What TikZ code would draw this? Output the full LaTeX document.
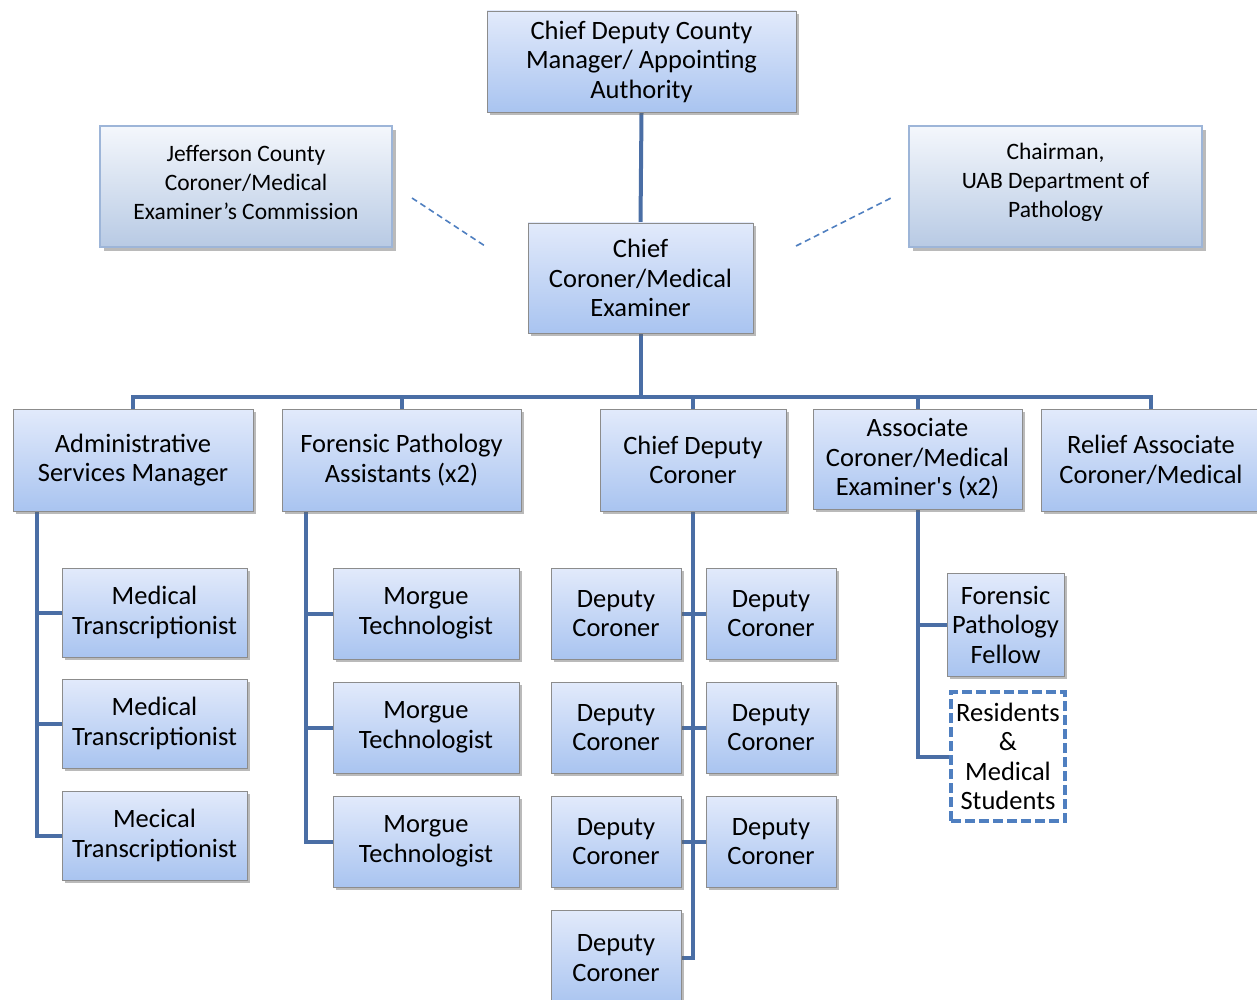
\documentclass[tikz,border=0pt]{standalone}
\usepackage{fontspec}
\setmainfont{Carlito}[Ligatures=TeXOff]
\usetikzlibrary{shadows,backgrounds}
\definecolor{conncol}{HTML}{4A6EA5}
\definecolor{boxtop}{HTML}{E2EAFB}
\definecolor{boxbot}{HTML}{A9C4F0}
\definecolor{sidetop}{HTML}{F4F7FC}
\definecolor{sidebot}{HTML}{B8CAE4}
\definecolor{sideborder}{HTML}{9DB5D8}
\definecolor{dashcol}{HTML}{4F7FC0}
\tikzset{
  boxstyle/.style={rectangle, draw=black!45, line width=0.8pt, top color=boxtop, bottom color=boxbot,
    align=center, inner sep=0pt, font=\fontsize{26.5}{29.5}\selectfont,
    drop shadow={shadow xshift=3pt, shadow yshift=-3pt, opacity=0.45, fill=black!60}},
  sidebox/.style={rectangle, draw=sideborder, line width=2.2pt, top color=sidetop, bottom color=sidebot,
    inner sep=0pt,
    drop shadow={shadow xshift=4pt, shadow yshift=-4pt, opacity=0.45, fill=black!60}},
  sidetext/.style={align=center, inner sep=0pt, font=\fontsize{23.5}{29}\selectfont},
  dashbox/.style={rectangle, draw=dashcol, line width=3.5pt, dash pattern=on 10pt off 4pt, fill=white,
    align=center, inner sep=0pt, font=\fontsize{26.5}{29.5}\selectfont},
  conn/.style={draw=conncol, line width=4pt},
  dashconn/.style={draw=dashcol, line width=1.6pt, dash pattern=on 6pt off 4pt},
}
\begin{document}
\begin{tikzpicture}[x=1pt,y=-1pt]
\useasboundingbox (0,0) rectangle (1257,1000);

% ---- boxes ----
\node[boxstyle, minimum width=309pt, minimum height=101pt] (top) at (641.5,61.5)
  {Chief Deputy County\\Manager/ Appointing\\Authority};
\node[sidebox, minimum width=292pt, minimum height=121pt] (jeff) at (246,186.5) {};
\node[sidetext] (jefftext) at (246,182)
  {Jefferson County\\Coroner/Medical\\Examiner’s Commission};
\node[sidebox, minimum width=293pt, minimum height=121pt] (chair) at (1055.5,186.5) {};
\node[sidetext] (chairtext) at (1055.5,182.5)
  {Chairman,\\UAB Department of\\Pathology};
\node[boxstyle, minimum width=225pt, minimum height=110pt] (chief) at (640.5,278)
  {Chief\\Coroner/Medical\\Examiner};

\node[boxstyle, minimum width=240pt, minimum height=102pt] (admin) at (133,460)
  {Administrative\\Services Manager};
\node[boxstyle, minimum width=239pt, minimum height=102pt] (fpa) at (401.5,460)
  {Forensic Pathology\\Assistants (x2)};
\node[boxstyle, minimum width=186pt, minimum height=102pt] (cdc) at (693,460)
  {Chief Deputy\\Coroner};
\node[boxstyle, minimum width=209pt, minimum height=100pt] (assoc) at (917.5,459)
  {Associate\\Coroner/Medical\\Examiner's (x2)};
\node[boxstyle, minimum width=220pt, minimum height=102pt] (relief) at (1151,460)
  {Relief Associate\\Coroner/Medical};

\node[boxstyle, minimum width=185pt, minimum height=89pt] (mt1) at (154.5,612.5)
  {Medical\\Transcriptionist};
\node[boxstyle, minimum width=185pt, minimum height=89pt] (mt2) at (154.5,723.5)
  {Medical\\Transcriptionist};
\node[boxstyle, minimum width=185pt, minimum height=89pt] (mt3) at (154.5,835.5)
  {Mecical\\Transcriptionist};

\node[boxstyle, minimum width=186pt, minimum height=91pt] (mg1) at (426,613.5)
  {Morgue\\Technologist};
\node[boxstyle, minimum width=186pt, minimum height=91pt] (mg2) at (426,727.5)
  {Morgue\\Technologist};
\node[boxstyle, minimum width=186pt, minimum height=91pt] (mg3) at (426,841.5)
  {Morgue\\Technologist};

\node[boxstyle, minimum width=130pt, minimum height=91pt] (dl1) at (616,613.5) {Deputy\\Coroner};
\node[boxstyle, minimum width=130pt, minimum height=91pt] (dr1) at (771,613.5) {Deputy\\Coroner};
\node[boxstyle, minimum width=130pt, minimum height=91pt] (dl2) at (616,727.5) {Deputy\\Coroner};
\node[boxstyle, minimum width=130pt, minimum height=91pt] (dr2) at (771,727.5) {Deputy\\Coroner};
\node[boxstyle, minimum width=130pt, minimum height=91pt] (dl3) at (616,841.5) {Deputy\\Coroner};
\node[boxstyle, minimum width=130pt, minimum height=91pt] (dr3) at (771,841.5) {Deputy\\Coroner};
\node[boxstyle, minimum width=130pt, minimum height=96pt] (dl4) at (616,958) {Deputy\\Coroner};

\node[boxstyle, minimum width=117pt, minimum height=103pt] (fellow) at (1005.5,624.5)
  {Forensic\\Pathology\\Fellow};
\node[dashbox, minimum width=114pt, minimum height=129pt] (res) at (1008,756.5)
  {Residents\\\&\\Medical\\Students};

% ---- connectors (behind boxes) ----
\coordinate (bus) at (0,397);
\coordinate (aX) at (37,0);
\coordinate (fX) at (306,0);
\coordinate (jd1) at (412,198);
\coordinate (jd2) at (485,246);
\coordinate (cd1) at (796,246);
\coordinate (cd2) at (891,198);
\begin{scope}[on background layer]
\draw[dashconn] (jd1) -- (jd2);
\draw[dashconn] (cd1) -- (cd2);
\draw[conn] (top.south) -- (chief.north);
\draw[conn] (chief.south) -- (chief.south |- bus);
\draw[conn] (admin.north) -- (admin.north |- bus) -- (relief.north |- bus) -- (relief.north);
\draw[conn] (fpa.north) -- (fpa.north |- bus);
\draw[conn] (cdc.north) -- (cdc.north |- bus);
\draw[conn] (assoc.north) -- (assoc.north |- bus);
% admin column
\draw[conn] (admin.south -| aX) |- (mt3.west);
\draw[conn] (mt1.west -| aX) -- (mt1.west);
\draw[conn] (mt2.west -| aX) -- (mt2.west);
% forensic column
\draw[conn] (fpa.south -| fX) |- (mg3.west);
\draw[conn] (mg1.west -| fX) -- (mg1.west);
\draw[conn] (mg2.west -| fX) -- (mg2.west);
% chief deputy column
\draw[conn] (cdc.south) |- (dl4.east);
\draw[conn] (dl1.east) -- (dr1.west);
\draw[conn] (dl2.east) -- (dr2.west);
\draw[conn] (dl3.east) -- (dr3.west);
% associate column
\draw[conn] (assoc.south) |- (res.west);
\draw[conn] (assoc.south |- fellow.west) -- (fellow.west);
\end{scope}
\end{tikzpicture}
\end{document}
